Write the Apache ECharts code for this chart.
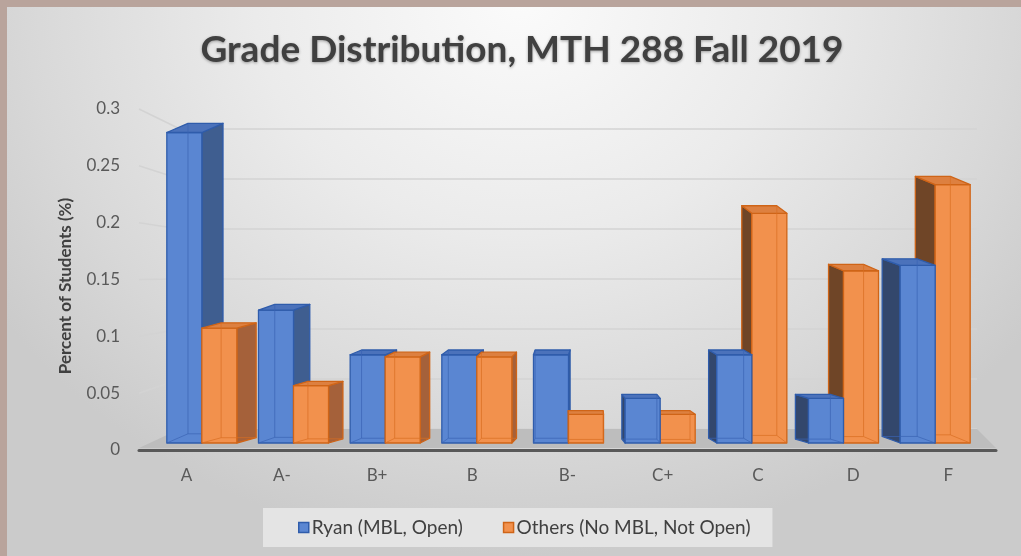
<!DOCTYPE html>
<html>
<head>
<meta charset="utf-8">
<script src="https://cdn.jsdelivr.net/npm/echarts@6/dist/echarts.min.js"></script>
<style>
  html, body { margin: 0; padding: 0; }
  #wrap { position: relative; width: 1021px; height: 556px; overflow: hidden;
    background: radial-gradient(ellipse 62% 100% at 51% 0%, #fbfbfb 0%, #ebebeb 42%, #d8d8d8 78%, #cbcbcb 100%); }
  #chart { position: absolute; left: 0; top: 0; width: 1021px; height: 556px; }
  #frame { position: absolute; left: 0; top: 0; width: 1021px; height: 556px; pointer-events: none;
    box-shadow: inset 7px 7px 0 #b9a49c; }
</style>
</head>
<body>
<div id="wrap"><div id="chart"></div><div id="frame"></div></div>
<script>
// ---- data ----
const titleText = 'Grade Distribution, MTH 288 Fall 2019';
const yAxisTitle = 'Percent of Students (%)';
const categories = ['A', 'A-', 'B+', 'B', 'B-', 'C+', 'C', 'D', 'F'];
const seriesNames = ['Ryan (MBL, Open)', 'Others (No MBL, Not Open)'];
const ryan = [0.292, 0.125, 0.083, 0.083, 0.083, 0.042, 0.083, 0.042, 0.167];
const others = [0.108, 0.054, 0.081, 0.081, 0.027, 0.027, 0.216, 0.162, 0.243];
const yMin = 0, yMax = 0.3, yStep = 0.05;

// ---- styles ----
const palette = [
  { front: '#5a86d2', border: '#2f5cab', top: '#4b72bb', sideR: '#3f5e90', sideL: '#33476c', inner: '#3a64b4' },
  { front: '#f2914d', border: '#cf6417', top: '#dd8040', sideR: '#a5613a', sideL: '#6f4527', inner: '#d86e22' }
];
const FONT = 'Lato, "Open Sans", sans-serif';

function makeRender(which) {
  return function (params, api) {
    const i = api.value(0), v = api.value(1);
    const b = api.coord([i, 0]);
    const t = api.coord([i, v]);
    const band = api.size([1, 0])[0];
    const w = band * 0.382;
    const cs = params.coordSys;
    const vpx = cs.x + cs.width * 0.515;
    const x0 = which === 0 ? b[0] - w : b[0];
    const x1 = x0 + w;
    const yb = b[1], yt = t[1];
    const xc = (x0 + x1) / 2;
    const dx = 0.0534 * (vpx - xc);
    const dy = -3 - 0.02 * (yb - yt);
    const groupRight = (vpx - b[0]) > 0;
    const zb = ((which === 0) === groupRight) ? 10 : 20;
    const P = palette[which];
    const sideCol = dx > 0 ? P.sideR : P.sideL;
    const sx = dx > 0 ? x1 : x0;
    const bx = dx > 0 ? x0 + dx : x1 + dx; // inner back vertical edge
    const dxc = dx > 0 ? x0 : x1;
    const stroke = { stroke: P.border, lineWidth: 1.3, lineJoin: 'round' };
    return {
      type: 'group',
      children: [
        { type: 'polygon', z2: zb,
          shape: { points: [[sx, yt], [sx + dx, yt + dy], [sx + dx, yb + dy], [sx, yb]] },
          style: Object.assign({ fill: sideCol }, stroke) },
        { type: 'rect', z2: zb + 1,
          shape: { x: x0, y: yt, width: w, height: yb - yt },
          style: Object.assign({ fill: P.front }, stroke) },
        { type: 'polygon', z2: zb + 2,
          shape: { points: [[x0, yt], [x0 + dx, yt + dy], [x1 + dx, yt + dy], [x1, yt]] },
          style: Object.assign({ fill: P.top }, stroke) },
        { type: 'polyline', z2: zb + 3,
          shape: { points: [[bx, yt + dy], [bx, yb + dy], [dxc, yb]] },
          style: { stroke: P.inner, lineWidth: 1, opacity: 0.7, fill: null } },
        { type: 'line', z2: zb + 3,
          shape: { x1: bx, y1: yb + dy, x2: (dx > 0 ? x1 + dx : x0 + dx), y2: yb + dy },
          style: { stroke: P.inner, lineWidth: 1, opacity: 0.7 } }
      ]
    };
  };
}

const dom = document.getElementById('chart');
const chart = echarts.init(dom, null, { renderer: 'canvas' });

const option = {
  animation: false,
  backgroundColor: 'transparent',
  textStyle: { fontFamily: FONT },
  grid: [
    { left: 180, right: 44, top: 129, bottom: 127 },   // back wall
    { left: 139, right: 25, top: 109, bottom: 106 },   // axis labels / front edge
    { left: 156, right: 40, top: 124, bottom: 113 }    // bars (front faces)
  ],
  xAxis: [
    { type: 'value', gridIndex: 0, min: 0, max: 1, show: false },
    { type: 'category', gridIndex: 1, data: categories,
      axisLine: { lineStyle: { color: '#595959', width: 3 } },
      axisTick: { show: false },
      axisLabel: { color: '#595959', fontSize: 17, margin: 17, fontFamily: FONT } },
    { type: 'category', gridIndex: 2, data: categories, show: false },
    { type: 'value', gridIndex: 1, min: 0, max: 1, show: false }
  ],
  yAxis: [
    { type: 'value', gridIndex: 0, min: yMin, max: yMax, interval: yStep,
      axisLine: { show: false }, axisTick: { show: false }, axisLabel: { show: false },
      splitLine: { lineStyle: { color: '#d3d3d3', width: 1.5 } } },
    { type: 'value', gridIndex: 1, min: yMin, max: yMax, interval: yStep,
      axisLine: { show: false }, axisTick: { show: false }, splitLine: { show: false },
      axisLabel: { color: '#595959', fontSize: 17, margin: 19, fontFamily: FONT } },
    { type: 'value', gridIndex: 2, min: yMin, max: yMax, show: false }
  ],
  legend: {
    left: 263, top: 508,
    padding: [10, 22, 10, 35],
    backgroundColor: '#e4e4e4',
    itemWidth: 10, itemHeight: 10, itemGap: 40,
    icon: 'rect',
    textStyle: { color: '#404040', fontSize: 19, fontFamily: FONT, padding: [0, 0, 0, -2] },
    data: [
      { name: seriesNames[0], itemStyle: { color: palette[0].front, borderColor: palette[0].border, borderWidth: 1.5 } },
      { name: seriesNames[1], itemStyle: { color: palette[1].front, borderColor: palette[1].border, borderWidth: 1.5 } }
    ]
  },
  series: [
    { name: seriesNames[0], type: 'custom', xAxisIndex: 2, yAxisIndex: 2, clip: false,
      itemStyle: { color: palette[0].front, borderColor: palette[0].border },
      renderItem: makeRender(0),
      encode: { x: 0, y: 1 },
      data: ryan.map((v, i) => [i, v]) },
    { name: seriesNames[1], type: 'custom', xAxisIndex: 2, yAxisIndex: 2, clip: false,
      itemStyle: { color: palette[1].front, borderColor: palette[1].border },
      renderItem: makeRender(1),
      encode: { x: 0, y: 1 },
      data: others.map((v, i) => [i, v]) }
  ]
};
chart.setOption(option);

// ---- decorations derived from the axes: floor, left-wall grid connectors, titles ----
const front = (x, v) => chart.convertToPixel({ xAxisIndex: 3, yAxisIndex: 1 }, [x, v]);
const back = (x, v) => chart.convertToPixel({ xAxisIndex: 0, yAxisIndex: 0 }, [x, v]);
const graphics = [];
const fl = front(0, yMin), fr = front(1, yMin), bl = back(0, yMin), br = back(1, yMin);
graphics.push({ type: 'polygon', z: 1, silent: true,
  shape: { points: [[fl[0], fl[1] - 2], bl, br, [fr[0], fr[1] - 2]] },
  style: { fill: '#bdbdbd' } });
for (let v = yMin + yStep; v <= yMax + 1e-9; v += yStep) {
  const a = front(0, v), c = back(0, v);
  graphics.push({ type: 'line', z: 0, silent: true,
    shape: { x1: a[0], y1: a[1], x2: c[0], y2: c[1] },
    style: { stroke: '#d3d3d3', lineWidth: 1.5 } });
}
graphics.push({ type: 'text', z: 5, x: 522, y: 50,
  style: { text: titleText, align: 'center', verticalAlign: 'middle',
    font: 'bold 37px ' + FONT, fill: '#404040',
    textShadowColor: 'rgba(0,0,0,0.35)', textShadowBlur: 3, textShadowOffsetY: 1 } });
graphics.push({ type: 'text', z: 5, x: 66, y: 286, rotation: Math.PI / 2,
  style: { text: yAxisTitle, align: 'center', verticalAlign: 'middle',
    font: 'bold 17px ' + FONT, fill: '#404040' } });
chart.setOption({ graphic: graphics });
</script>
</body>
</html>
